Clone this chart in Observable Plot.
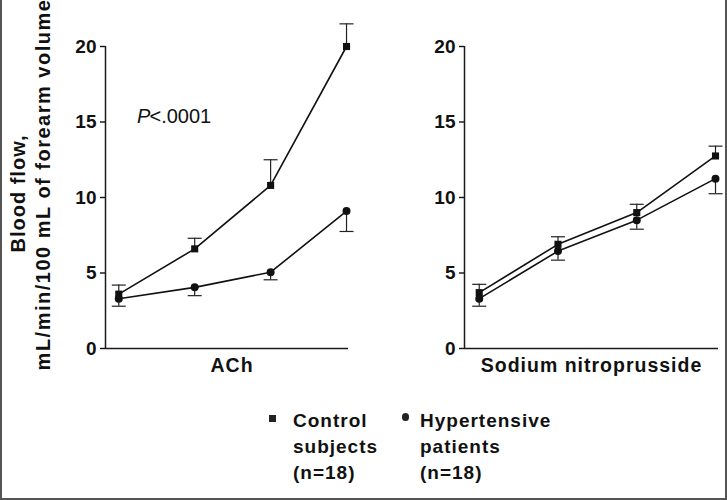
<!DOCTYPE html>
<html><head><meta charset="utf-8">
<script src="https://cdn.jsdelivr.net/npm/d3@7"></script>
<script src="https://cdn.jsdelivr.net/npm/@observablehq/plot@0.6"></script>
<style>
body{margin:0;background:#fff;}
#wrap{position:relative;width:727px;height:500px;overflow:hidden;font-family:"Liberation Sans",Arial,Helvetica,sans-serif;color:#111;}
#border{position:absolute;left:0;top:0;width:727px;height:500px;box-sizing:border-box;border:2px solid #555;border-top:none;pointer-events:none;}
.panel{position:absolute;top:0;}
#wrap svg text{letter-spacing:1px;}
#wrap svg g[aria-label="y-axis tick label"] text{letter-spacing:0;}
.legtxt{position:absolute;font-weight:bold;font-size:19px;line-height:26px;letter-spacing:1px;white-space:pre;}
.sw{position:absolute;background:#222;}
</style></head><body>
<div id="wrap">
  <div id="left" class="panel" style="left:0px"></div>
  <div id="right" class="panel" style="left:364px"></div>
  <div id="legend"></div>
  <div id="border"></div>
</div>
<script>
// ---- data ----
const doses = [1, 2, 3, 4];
const panelTitles = ["ACh", "Sodium nitroprusside"];
const yTicks = [0, 5, 10, 15, 20];
const yLabelLines = ["Blood flow,", "mL/min/100 mL of forearm volume"];
const pLabelP = "P";
const pLabelRest = "<.0001";

const achControl   = [3.6, 6.6, 10.8, 20.0];
const achControlSE = [0.6, 0.7, 1.7, 1.5];
const achHyper     = [3.3, 4.05, 5.05, 9.1];
const achHyperSE   = [0.5, 0.55, 0.5, 1.35];

const snpControl   = [3.7, 6.9, 9.0, 12.75];
const snpControlSE = [0.55, 0.5, 0.55, 0.65];
const snpHyper     = [3.3, 6.45, 8.5, 11.25];
const snpHyperSE   = [0.5, 0.6, 0.6, 1.0];

const legendLabels = ["Control\nsubjects\n(n=18)", "Hypertensive\npatients\n(n=18)"];

// ---- helpers ----
const capSymbol = {
  draw(ctx, size) {
    const w = Math.sqrt(size / Math.PI);
    ctx.moveTo(-w, 0);
    ctx.lineTo(w, 0);
  }
};

function buildRows(ctrl, ctrlSE, hyp, hypSE) {
  const rows = [];
  doses.forEach((d, i) => {
    rows.push({group: "Control", dose: d, v: ctrl[i], end: ctrl[i] + ctrlSE[i]});
    rows.push({group: "Hypertensive", dose: d, v: hyp[i], end: hyp[i] - hypSE[i]});
  });
  return rows;
}

function panel(title, rows, o) {
  const marks = [
    Plot.ruleY([0], {stroke: "#1a1a1a", strokeWidth: 1.5}),
    Plot.ruleX([o.xd[0]], {stroke: "#1a1a1a", strokeWidth: 1.5}),
    Plot.axisY({ticks: yTicks, tickSize: 5, tickPadding: 4, label: null, strokeWidth: 1.4,
                fontSize: 19, fontWeight: "bold"}),
    Plot.ruleX(rows, {x: "dose", y1: "v", y2: "end", stroke: "#222", strokeWidth: 1.2}),
    Plot.dot(rows, {x: "dose", y: "end", symbol: capSymbol, r: 7, stroke: "#222", fill: "none", strokeWidth: 1.2}),
    Plot.line(rows, {x: "dose", y: "v", z: "group", stroke: "#111", strokeWidth: 1.6}),
    Plot.dot(rows, {filter: d => d.group === "Control", x: "dose", y: "v", symbol: "square", r: 4, fill: "#111", stroke: "none"}),
    Plot.dot(rows, {filter: d => d.group === "Hypertensive", x: "dose", y: "v", symbol: "circle", r: 4, fill: "#111", stroke: "none"}),
    Plot.text([title], {text: d => d, frameAnchor: "bottom", dy: 23, dx: o.titleDx, fontSize: 19.5, fontWeight: "bold", fill: "#111"})
  ];
  if (o.yLabel) {
    marks.push(
      Plot.text([yLabelLines[0]], {text: d => d, frameAnchor: "left", textAnchor: "middle", rotate: -90, dx: -86.5, dy: -4, fontSize: 20, fontWeight: "bold", fill: "#111"}),
      Plot.text([yLabelLines[1]], {text: d => d, frameAnchor: "left", textAnchor: "middle", rotate: -90, dx: -61.5, dy: -13, fontSize: 20, fontWeight: "bold", fill: "#111"}),
      Plot.text([pLabelP], {text: d => d, frameAnchor: "top-left", textAnchor: "start", dx: 31.5, dy: 62.5, fontSize: 20, fontStyle: "italic", fill: "#111"}),
      Plot.text([pLabelRest], {text: d => d, frameAnchor: "top-left", textAnchor: "start", dx: 44, dy: 62.5, fontSize: 20, fill: "#111"})
    );
  }
  const svg = Plot.plot({
    width: o.width, height: 390,
    marginLeft: o.ml, marginRight: o.mr, marginTop: 46, marginBottom: 42,
    x: {type: "linear", domain: o.xd, axis: null},
    y: {type: "linear", domain: [0, 20]},
    style: {fontFamily: '"Liberation Sans", Arial, Helvetica, sans-serif', fontSize: "18px", color: "#111", background: "transparent", overflow: "visible"},
    marks
  });
  svg.querySelectorAll("text").forEach(t => {
    const s = t.textContent;
    if (s === pLabelP || s === pLabelRest) t.style.letterSpacing = "0px";
    if (s === yLabelLines[1]) t.style.letterSpacing = "1.5px";
  });
  return svg;
}

document.getElementById("left").appendChild(
  panel(panelTitles[0], buildRows(achControl, achControlSE, achHyper, achHyperSE),
        {width: 364, ml: 105, mr: 16, xd: [0.825, 4.026], titleDx: 5, yLabel: true}));
document.getElementById("right").appendChild(
  panel(panelTitles[1], buildRows(snpControl, snpControlSE, snpHyper, snpHyperSE),
        {width: 363, ml: 100, mr: 9, xd: [0.813, 4.038], titleDx: 0, yLabel: false}));

// ---- legend ----
const leg = document.getElementById("legend");
const legendCols = [
  {textLeft: 293, markLeft: 269, markTop: 415, size: 7, round: false},
  {textLeft: 420, markLeft: 401.5, markTop: 413, size: 7.5, round: true}
];
legendLabels.forEach((lab, i) => {
  const c = legendCols[i];
  const m = document.createElement("div");
  m.className = "sw";
  m.style.left = c.markLeft + "px"; m.style.top = c.markTop + "px";
  m.style.width = c.size + "px"; m.style.height = c.size + "px";
  if (c.round) m.style.borderRadius = "50%";
  leg.appendChild(m);
  const t = document.createElement("div");
  t.className = "legtxt";
  t.style.left = c.textLeft + "px"; t.style.top = "407.5px";
  t.textContent = lab;
  leg.appendChild(t);
});
</script>
</body></html>
